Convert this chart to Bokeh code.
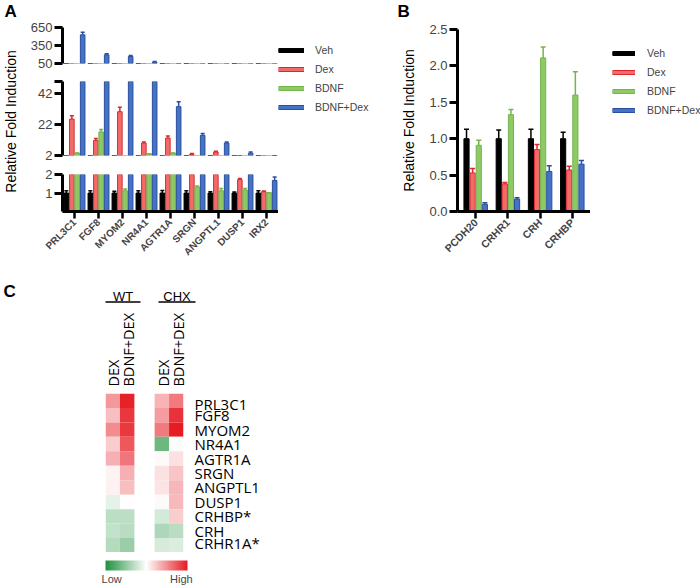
import math
import numpy as np
from bokeh.plotting import figure
from bokeh.models import (Range1d, FactorRange, FixedTicker, Legend, LegendItem, ColumnDataSource,
                          ColorBar, LinearColorMapper, NumeralTickFormatter)
from bokeh.layouts import row, column
from bokeh.transform import dodge
from bokeh.embed import file_html
from bokeh.resources import INLINE
from bokeh.core.properties import value

# ---------------- data ----------------
series_names = ["Veh", "Dex", "BDNF", "BDNF+Dex"]

genes_a = ["PRL3C1", "FGF8", "MYOM2", "NR4A1", "AGTR1A", "SRGN", "ANGPTL1", "DUSP1", "IRX2"]
veh_a = [1, 1, 1, 1, 1, 1, 1, 1, 1]
veh_a_err = [0.12, 0.12, 0.1, 0.12, 0.13, 0.12, 0.07, 0.05, 0.12]
dex_a = [25.6, 11.8, 30.4, 10.1, 13.3, 2.65, 4.2, 1.72, 1.07]
dex_a_err = [2.2, 1.2, 2.9, 0.6, 1.4, 0.6, 0.6, 0.06, 0.04]
bdnf_a = [3.5, 17.3, 1.12, 3.1, 3.5, 1.33, 1.12, 1.16, 1.02]
bdnf_a_err = [0.2, 1.5, 0.09, 0.1, 0.2, 0.05, 0.12, 0.09, 0.0]
bd_a = [528, 195, 167, 72, 33.7, 15.1, 10.1, 3.5, 1.68]
bd_a_err = [44, 17, 16, 11, 3.2, 1.1, 0.6, 0.7, 0.18]

ticks_a_top = [50, 350, 650]
ticks_a_mid = [2, 22, 42]
ticks_a_mid_end = [50]
ticks_a_bot = [1, 2]

genes_b = ["PCDH20", "CRHR1", "CRH", "CRHBP"]
veh_b = [1.0, 1.0, 1.0, 1.0]
veh_b_err = [0.13, 0.12, 0.13, 0.09]
dex_b = [0.53, 0.38, 0.85, 0.57]
dex_b_err = [0.06, 0.02, 0.07, 0.05]
bdnf_b = [0.91, 1.33, 2.11, 1.60]
bdnf_b_err = [0.07, 0.07, 0.15, 0.32]
bd_b = [0.10, 0.17, 0.55, 0.65]
bd_b_err = [0.02, 0.02, 0.08, 0.05]
ticks_b = [0, 0.5, 1.0, 1.5, 2.0, 2.5]

hm_genes = ["PRL3C1", "FGF8", "MYOM2", "NR4A1", "AGTR1A", "SRGN", "ANGPTL1", "DUSP1", "CRHBP*", "CRH", "CRHR1A*"]
hm_groups = ["WT", "CHX"]
hm_treatments = ["DEX", "BDNF+DEX"]
wt_dex = [0.45, 0.28, 0.50, 0.22, 0.35, 0.05, 0.06, -0.12, -0.30, -0.27, -0.33]
wt_bdnf_dex = [0.97, 0.88, 0.87, 0.73, 0.60, 0.35, 0.28, 0.0, -0.30, -0.32, -0.45]
chx_dex = [0.33, 0.43, 0.58, -0.65, 0.02, 0.13, 0.12, 0.02, -0.20, -0.36, -0.18]
chx_bdnf_dex = [0.58, 0.90, 1.0, -0.02, 0.13, 0.25, 0.32, 0.30, 0.22, -0.32, -0.17]

# ---------------- style ----------------
FONT = "Liberation Sans"
HFONT = "Open Sans"
BLK = "#000000"
RED_F, RED_L = "#f26b6b", "#d9282e"
GRN_F, GRN_L = "#8dc965", "#74b54c"
BLU_F, BLU_L = "#4472c4", "#2b4f9e"
fills = [BLK, RED_F, GRN_F, BLU_F]
lines = [BLK, RED_L, GRN_L, BLU_L]
offs_a = [-0.34, -0.11, 0.11, 0.34]
offs_b = [-0.285, -0.095, 0.095, 0.285]

ROW1_H = 281


def base_fig(**kw):
    p = figure(output_backend="svg", toolbar_location=None, **kw)
    p.outline_line_color = None
    p.grid.visible = False
    p.background_fill_color = "white"
    p.border_fill_color = "white"
    return p


def canvas_fig(w, h):
    """figure whose frame is the whole canvas; y counts up from the bottom"""
    return base_fig(width=w, height=h, x_range=Range1d(0, w), y_range=Range1d(0, h),
                    x_axis_location=None, y_axis_location=None, min_border=0)


def put_text(p, h, x, ytop_px, txt, size, style="normal", align="left", baseline="top",
             angle=0.0, font=FONT):
    p.text(x=[x], y=[h - ytop_px], text=[txt], angle=angle, text_font=value(font),
           text_font_style=style, text_font_size=size, text_align=align,
           text_baseline=baseline, text_color="black")


def style_y(ax, ticks, minor=None):
    ax.ticker = FixedTicker(ticks=ticks, minor_ticks=minor or [])
    ax.axis_line_width = 3
    ax.major_tick_line_width = 3
    ax.major_tick_out = 8
    ax.major_tick_in = 0
    if minor:
        ax.minor_tick_line_color = "black"
        ax.minor_tick_line_width = 3
        ax.minor_tick_out = 8
        ax.minor_tick_in = 0
    else:
        ax.minor_tick_line_color = None
    ax.major_label_text_font = FONT
    ax.major_label_text_font_size = "13px"
    ax.major_label_standoff = 2


def style_x(ax):
    ax.axis_line_width = 3
    ax.major_tick_line_width = 2.5
    ax.major_tick_out = 7
    ax.major_tick_in = 0
    ax.major_label_orientation = math.pi / 4
    ax.major_label_text_font = FONT
    ax.major_label_text_font_style = "bold"
    ax.major_label_text_font_size = "10px"
    ax.major_label_standoff = 2


def draw_bars(p, genes, xr, data, errs, offs, width, cap):
    for vals, err, off, fc, lc in zip(data, errs, offs, fills, lines):
        src = ColumnDataSource(dict(g=genes, v=vals, u=[v + e for v, e in zip(vals, err)]))
        xx = dodge("g", off, range=xr)
        p.vbar(x=xx, top="v", bottom=0, width=width, fill_color=fc, line_color=lc,
               line_width=1, source=src)
        p.segment(x0=xx, y0="v", x1=xx, y1="u", line_color=lc, line_width=1.5, source=src)
        p.scatter(x=xx, y="u", marker="dash", size=cap, line_color=lc, line_width=1.5, source=src)


def legend_fig(w, h, top, left, gw, standoff, data):
    p = base_fig(width=w, height=h, x_range=Range1d(0, 1), y_range=Range1d(0, 1),
                 x_axis_location=None, y_axis_location=None,
                 min_border_left=left, min_border_top=top, min_border_right=0, min_border_bottom=0)
    items = []
    for name, vals, fc, lc in zip(series_names, data, fills, lines):
        xs = list(range(len(vals)))
        r1 = p.line(x=xs, y=vals, line_color=lc, line_width=5, visible=False)
        r2 = p.line(x=xs, y=vals, line_color=fc, line_width=3, visible=False)
        items.append(LegendItem(label=name, renderers=[r1, r2]))
    leg = Legend(items=items, location="top_left", margin=0, padding=0, glyph_width=gw,
                 glyph_height=14, label_height=14, spacing=5, label_standoff=standoff,
                 label_text_font=FONT, label_text_font_size="10.5px",
                 border_line_color=None, background_fill_alpha=0, click_policy="none")
    p.add_layout(leg)
    return p


# ---------------- panel A (broken axis: three stacked segments) ----------------
xr_a = FactorRange(factors=genes_a, range_padding=0)
data_a = [veh_a, dex_a, bdnf_a, bd_a]
errs_a = [veh_a_err, dex_a_err, bdnf_a_err, bd_a_err]


def seg(height, tb, bb, y0, y1, ticks, minor=None, with_x=False):
    p = base_fig(width=251, height=height, x_range=xr_a, y_range=Range1d(y0, y1),
                 x_axis_location="below" if with_x else None,
                 min_border_left=34, min_border_right=0, min_border_top=tb, min_border_bottom=bb)
    draw_bars(p, genes_a, xr_a, data_a, errs_a, offs_a, 0.19, 4)
    style_y(p.yaxis[0], ticks, minor)
    if with_x:
        style_x(p.xaxis[0])
    return p


top_a = seg(72, 27, 9, 50, 650, ticks_a_top)
mid_a = seg(92, 9, 9, 2, 50, ticks_a_mid, minor=ticks_a_mid_end)
bot_a = seg(ROW1_H - 164, 10, ROW1_H - 211, 0, 2, ticks_a_bot, with_x=True)
col_a = column(top_a, mid_a, bot_a)

strip_a = canvas_fig(27, ROW1_H)
put_text(strip_a, ROW1_H, 4, 1, "A", "17px", style="bold")
put_text(strip_a, ROW1_H, 10, 121, "Relative Fold Induction", "14px", align="center",
         baseline="middle", angle=math.pi / 2)

leg_a = legend_fig(102, ROW1_H, 43, 0, 26, 11, data_a)

# ---------------- panel B ----------------
strip_b = canvas_fig(45, ROW1_H)
put_text(strip_b, ROW1_H, 17, 1, "B", "17px", style="bold")
put_text(strip_b, ROW1_H, 28, 120, "Relative Fold Induction", "14px", align="center",
         baseline="middle", angle=math.pi / 2)

xr_b = FactorRange(factors=genes_b, range_padding=0.0325)
data_b = [veh_b, dex_b, bdnf_b, bd_b]
fig_b = base_fig(width=165, height=ROW1_H, x_range=xr_b, y_range=Range1d(0, 2.5),
                 min_border_left=32, min_border_right=0, min_border_top=29,
                 min_border_bottom=ROW1_H - 211)
draw_bars(fig_b, genes_b, xr_b, data_b,
          [veh_b_err, dex_b_err, bdnf_b_err, bd_b_err], offs_b, 0.16, 5)
style_y(fig_b.yaxis[0], ticks_b)
fig_b.yaxis[0].formatter = NumeralTickFormatter(format="0.0")
style_x(fig_b.xaxis[0])
fig_b.xaxis[0].major_label_text_font_size = "10.5px"

leg_b = legend_fig(110, ROW1_H, 46, 22, 23, 12, data_b)

# ---------------- panel C (heatmap) ----------------
def ramp(c1, c2, n):
    return ["#%02x%02x%02x" % tuple(int(round(a + (b - a) * t)) for a, b in zip(c1, c2))
            for t in np.linspace(0, 1, n)]


palette = ramp((32, 145, 62), (255, 255, 255), 128) + ramp((255, 255, 255), (230, 28, 35), 129)[1:]
mapper = LinearColorMapper(palette=palette, low=-1, high=1)

hm_cols = [(g, t) for g in hm_groups for t in hm_treatments]
hx, hy, hv = [], [], []
for col, vals in zip(hm_cols, [wt_dex, wt_bdnf_dex, chx_dex, chx_bdnf_dex]):
    for g, v in zip(hm_genes, vals):
        hx.append(col)
        hy.append(g)
        hv.append(v)
hsrc = ColumnDataSource(dict(x=hx, y=hy, v=hv))

HC_W = 262
HEAT_TOP, HEAT_BOT = 393, 552
hdr_h = HEAT_TOP - ROW1_H
hdr = canvas_fig(HC_W, hdr_h)
put_text(hdr, hdr_h, 3, 0, "C", "17px", style="bold")
put_text(hdr, hdr_h, 122.5, 15, hm_groups[0], "13px", align="center", baseline="middle")
put_text(hdr, hdr_h, 176.5, 15, hm_groups[1], "13px", align="center", baseline="middle")
hdr.segment(x0=[105, 158], y0=[hdr_h - 20.5] * 2, x1=[140, 195], y1=[hdr_h - 20.5] * 2,
            line_color="black", line_width=1.5)
for xc, lab in zip([112.5, 127.5, 162.5, 177.5], [t for g in hm_groups for t in hm_treatments]):
    put_text(hdr, hdr_h, xc, 386 - ROW1_H, lab, "14.5px", align="left", baseline="middle",
             angle=math.pi / 2, font=HFONT)

xr_c = FactorRange(factors=hm_cols, group_padding=1.4, range_padding=0)
yr_c = FactorRange(factors=list(reversed(hm_genes)), range_padding=0)
heat = base_fig(width=HC_W, height=HEAT_BOT - HEAT_TOP, x_range=xr_c, y_range=yr_c,
                x_axis_location=None, y_axis_location="right",
                min_border_left=105, min_border_right=HC_W - 183, min_border_top=0,
                min_border_bottom=0)
heat.rect(x="x", y="y", width=1, height=1, source=hsrc, line_color=None,
          fill_color={"field": "v", "transform": mapper})
ay = heat.yaxis[0]
ay.axis_line_color = None
ay.major_tick_line_color = None
ay.major_label_text_font = HFONT
ay.major_label_text_font_size = "15px"
ay.major_label_text_color = "black"
ay.major_label_standoff = 5

cb_h = 585 - HEAT_BOT
cbf = base_fig(width=HC_W, height=cb_h, x_range=Range1d(0, 1), y_range=Range1d(0, 1),
               x_axis_location=None, y_axis_location=None,
               min_border_left=105, min_border_top=8, min_border_right=0, min_border_bottom=0)
cb = ColorBar(color_mapper=mapper, orientation="horizontal", height=10, width=82,
              location="top_left", padding=0, margin=0, bar_line_color=None,
              ticker=FixedTicker(ticks=[-0.85, 0.85]),
              major_label_overrides={-0.85: "Low", 0.85: "High"},
              major_tick_line_color=None, label_standoff=2,
              major_label_text_font=FONT, major_label_text_font_size="11px",
              background_fill_alpha=0, border_line_color=None)
cbf.add_layout(cb)


def box(p):
    return column(p)


top_row = row(box(strip_a), col_a, box(leg_a), box(strip_b), box(fig_b), box(leg_b))
bottom = column(box(hdr), box(heat), box(cbf))
layout = column(top_row, bottom)

with open("out.html", "w") as f:
    f.write(file_html(layout, INLINE))
